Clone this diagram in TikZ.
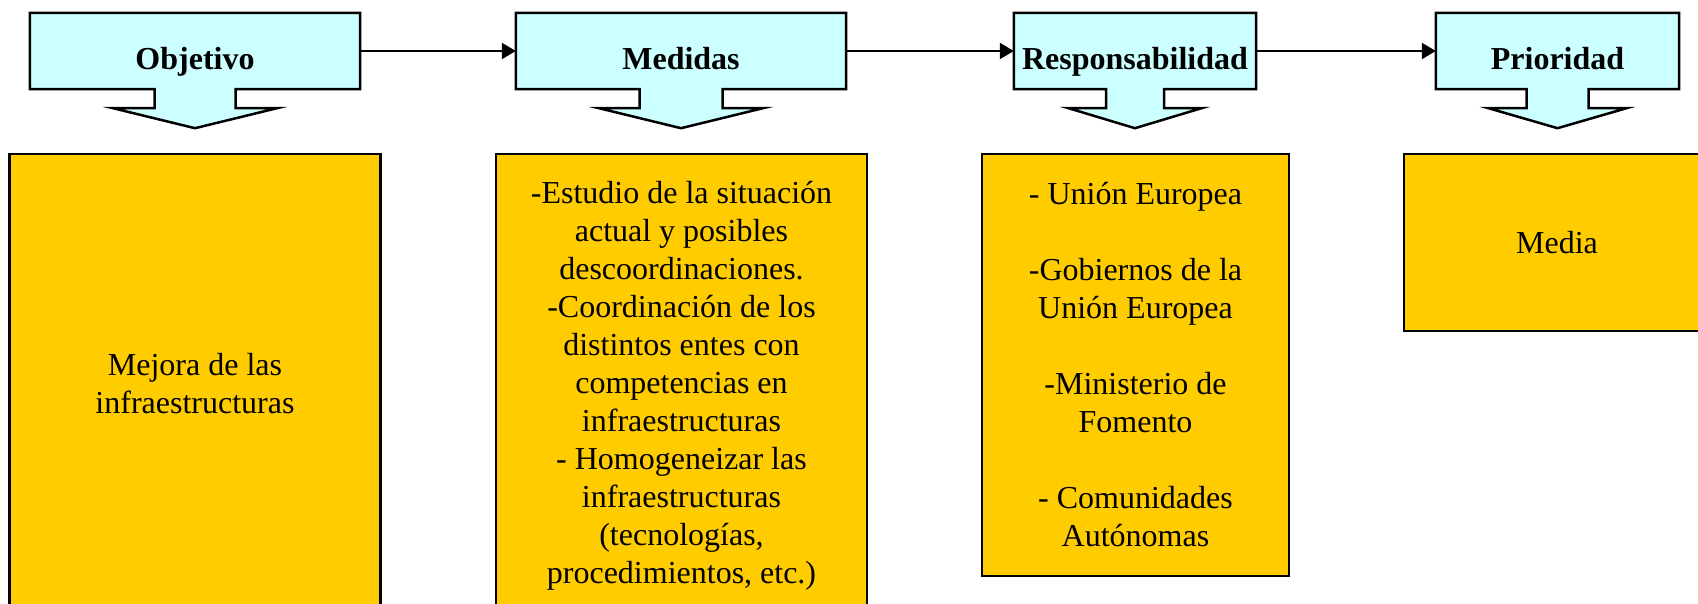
\documentclass[tikz,border=0pt]{standalone}
\usepackage{fontspec}
\setmainfont{Liberation Serif}
\usetikzlibrary{calc,arrows.meta,backgrounds}
\definecolor{hdrcyan}{HTML}{CCFFFF}
\definecolor{boxyellow}{HTML}{FFCC00}
\newcommand\mkcallout[3]{%
  \draw[line width=2.5pt, fill=hdrcyan, line join=miter]
    (#1.north west) -- (#1.north east) -- (#1.south east)
    -- ($(#1.south)+(#2,0)$) -- ($(#1.south)+(#2,19)$) -- ($(#1.south)+(#3,19)$)
    -- ($(#1.south)+(0,39)$) -- ($(#1.south)+(-#3,19)$) -- ($(#1.south)+(-#2,19)$)
    -- ($(#1.south)+(-#2,0)$) -- (#1.south west) -- cycle;}
\begin{document}
\begin{tikzpicture}[x=1pt,y=-1pt,
  hdr/.style={draw=none, inner sep=0pt, text height=37pt, text depth=0pt,
    font=\fontsize{32}{38}\selectfont\bfseries, minimum height=76pt},
  ybox/.style={draw, line width=2.5pt, fill=boxyellow, inner sep=0pt, align=center,
    font=\fontsize{32}{38}\selectfont},
  conn/.style={line width=2.3pt, -{Triangle[length=14pt,width=16pt]}}]
\useasboundingbox (0,0) rectangle (1698,604);
\node[hdr, minimum width=330pt] (obj) at (195,51) {Objetivo};
\node[hdr, minimum width=330pt] (med) at (681,51) {Medidas};
\node[hdr, minimum width=242pt] (resp) at (1135,51) {Responsabilidad};
\node[hdr, minimum width=243pt] (prio) at (1557.5,51) {Prioridad};
\begin{pgfonlayer}{background}
\mkcallout{obj}{40.5}{82}
\mkcallout{med}{41.5}{82}
\mkcallout{resp}{29}{66.5}
\mkcallout{prio}{31}{69}
\end{pgfonlayer}
\draw[conn] (obj.east) -- (med.west);
\draw[conn] (med.east) -- (resp.west);
\draw[conn] (resp.east) -- (prio.west);
\node[ybox, minimum width=371pt, minimum height=459pt] (b1) at (195,383.5)
  {Mejora de las\\infraestructuras};
\node[ybox, minimum width=371pt, minimum height=463pt] (b2) at (681.5,385.5)
  {-Estudio de la situación\\actual y posibles\\descoordinaciones.\\-Coordinación de los\\distintos entes con\\competencias en\\infraestructuras\\- Homogeneizar las\\infraestructuras\\(tecnologías,\\procedimientos, etc.)};
\node[ybox, minimum width=307pt, minimum height=421.5pt] (b3) at (1135.5,365)
  {- Unión Europea\\[38pt]-Gobiernos de la\\Unión Europea\\[38pt]-Ministerio de\\Fomento\\[38pt]- Comunidades\\Autónomas};
\node[ybox, minimum width=306pt, minimum height=177pt] (b4) at (1557,242.5) {Media};
\end{tikzpicture}
\end{document}
